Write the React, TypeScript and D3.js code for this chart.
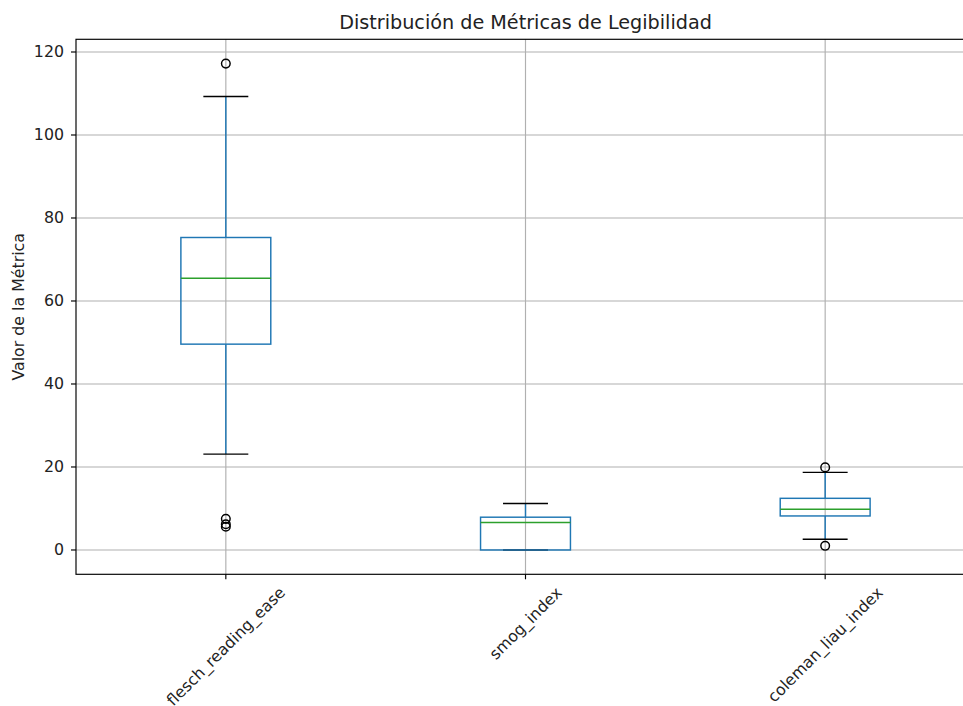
import React from "react";
import * as d3 from "d3";

const categories = ["flesch_reading_ease", "smog_index", "coleman_liau_index"];
const q1Values = [49.6, 0, 8.2];
const medianValues = [65.5, 6.6, 9.8];
const q3Values = [75.3, 7.9, 12.45];
const whiskerLow = [23.1, 0, 2.6];
const whiskerHigh = [109.3, 11.2, 18.7];
const outlierValues = [[117.2, 7.5, 6.2, 5.6], [], [19.9, 1.0]];
const yTicks = [0, 20, 40, 60, 80, 100, 120];

const W = 963;
const H = 706;
const left = 76;
const right = 975;
const top = 39.3;
const bottom = 574.3;
const FONT = "DejaVu Sans, sans-serif";
const tickFs = 15.8;
const titleFs = 19.2;

function measure(text: string, fs: number): number {
  const c = document.createElement("canvas");
  const ctx = c.getContext("2d");
  if (!ctx) return text.length * fs * 0.6;
  ctx.font = `${fs}px DejaVu Sans`;
  return ctx.measureText(text).width;
}

export default function App() {
  const allVals = [...whiskerLow, ...whiskerHigh, ...outlierValues.flat(), ...q1Values];
  const lo = d3.min(allVals) as number;
  const hi = d3.max(allVals) as number;
  const pad = (hi - lo) * 0.05;
  const y = d3.scaleLinear().domain([lo - pad, hi + pad]).range([bottom, top]);
  const x = d3.scaleLinear().domain([0.5, categories.length + 0.5]).range([left, right]);
  const unit = x(2) - x(1);
  const boxHalf = unit * 0.15;
  const capHalf = unit * 0.075;
  const blue = "#1f77b4";
  const green = "#2ca02c";
  const lw = 1.45;

  return (
    <svg width={W} height={H} style={{ position: "absolute", left: 0, top: 0, background: "#fff" }} fontFamily={FONT}>
      <rect x={0} y={0} width={W} height={H} fill="#fff" />
      <defs>
        <clipPath id="plotclip">
          <rect x={left} y={top} width={right - left} height={bottom - top} />
        </clipPath>
      </defs>
      {/* grid */}
      <g stroke="#b0b0b0" strokeWidth={1.16}>
        {yTicks.map((t) => (
          <line key={"gy" + t} x1={left} x2={right} y1={y(t)} y2={y(t)} />
        ))}
        {categories.map((c, i) => (
          <line key={"gx" + c} x1={x(i + 1)} x2={x(i + 1)} y1={top} y2={bottom} />
        ))}
      </g>
      {/* boxes */}
      <g clipPath="url(#plotclip)">
        {categories.map((c, i) => {
          const cx = x(i + 1);
          return (
            <g key={"b" + c} fill="none">
              <line x1={cx} x2={cx} y1={y(q3Values[i])} y2={y(whiskerHigh[i])} stroke={blue} strokeWidth={lw} />
              <line x1={cx} x2={cx} y1={y(q1Values[i])} y2={y(whiskerLow[i])} stroke={blue} strokeWidth={lw} />
              <line x1={cx - capHalf} x2={cx + capHalf} y1={y(whiskerHigh[i])} y2={y(whiskerHigh[i])} stroke="#000" strokeWidth={lw} />
              <line x1={cx - capHalf} x2={cx + capHalf} y1={y(whiskerLow[i])} y2={y(whiskerLow[i])} stroke="#000" strokeWidth={lw} />
              <rect x={cx - boxHalf} width={boxHalf * 2} y={y(q3Values[i])} height={y(q1Values[i]) - y(q3Values[i])} stroke={blue} strokeWidth={lw} fill="none" />
              <line x1={cx - boxHalf} x2={cx + boxHalf} y1={y(medianValues[i])} y2={y(medianValues[i])} stroke={green} strokeWidth={lw} />
              {outlierValues[i].map((v, j) => (
                <circle key={j} cx={cx} cy={y(v)} r={4.3} stroke="#000" strokeWidth={1.45} fill="none" />
              ))}
            </g>
          );
        })}
      </g>
      {/* spines */}
      <rect x={left} y={top} width={right - left} height={bottom - top} fill="none" stroke="#000" strokeWidth={1.16} />
      {/* y ticks */}
      <g>
        {yTicks.map((t) => (
          <g key={"yt" + t}>
            <line x1={left - 5} x2={left} y1={y(t)} y2={y(t)} stroke="#000" strokeWidth={1.16} />
            <text x={left - 12} y={y(t)} textAnchor="end" dominantBaseline="central" fontSize={tickFs} fill="#222">
              {t}
            </text>
          </g>
        ))}
      </g>
      {/* x ticks */}
      <g>
        {categories.map((c, i) => {
          const cx = x(i + 1);
          const w = measure(c, tickFs);
          const h = tickFs * 1.16;
          const y0 = bottom + 9;
          const cy = y0 + (w + h) / (2 * Math.SQRT2);
          return (
            <g key={"xt" + c}>
              <line x1={cx} x2={cx} y1={bottom} y2={bottom + 5} stroke="#000" strokeWidth={1.16} />
              <text
                transform={`translate(${cx},${cy}) rotate(-45)`}
                textAnchor="middle"
                dominantBaseline="central"
                fontSize={tickFs}
                fill="#222"
              >
                {c}
              </text>
            </g>
          );
        })}
      </g>
      <text transform={`translate(18,${(top + bottom) / 2}) rotate(-90)`} textAnchor="middle" dominantBaseline="central" fontSize={tickFs} fill="#222">
        Valor de la Métrica
      </text>
      <text x={(left + right) / 2} y={29} textAnchor="middle" fontSize={titleFs} fill="#222">
        Distribución de Métricas de Legibilidad
      </text>
    </svg>
  );
}
